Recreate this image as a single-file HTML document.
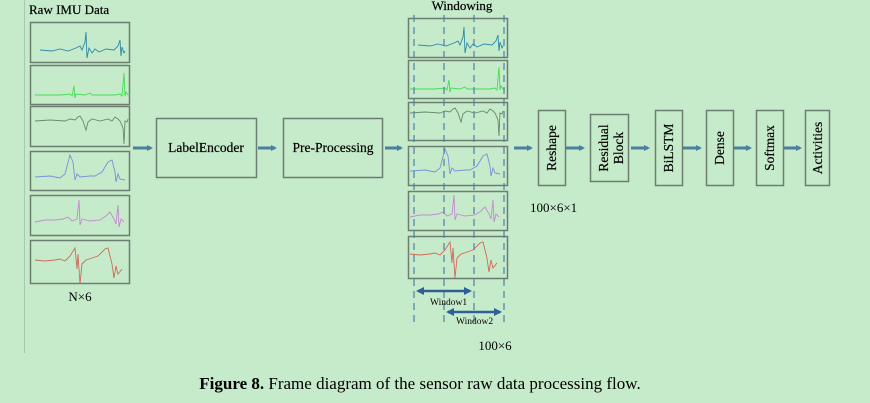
<!DOCTYPE html>
<html><head><meta charset="utf-8"><style>
html,body{margin:0;padding:0;background:#c6ebcb;}
svg{display:block;font-family:"Liberation Serif",serif;}
</style></head><body>
<svg width="870" height="403" viewBox="0 0 870 403" xmlns="http://www.w3.org/2000/svg">
<defs>
<marker id="ah" markerWidth="6" markerHeight="6" refX="4" refY="3" orient="auto" markerUnits="userSpaceOnUse"><path d="M0,0 L6,3 L0,6 z" fill="#4a7fa0"/></marker>
<marker id="bh" markerWidth="8" markerHeight="8" refX="6" refY="4" orient="auto-start-reverse" markerUnits="userSpaceOnUse"><path d="M0,0 L8,4 L0,8 z" fill="#2f5f95"/></marker>
<g id="w1"><polyline fill="none" stroke="#2e8aa8" stroke-width="0.9" points="10,20 22,21 30,19 38,21 46,18 50,16 52,20 55,12 56,2 57,28 59,18 62,23 65,19 69,22 76,19 84,20 88,16 90,10 91,26 92,17 94,23 95,21"/></g>
<g id="w2"><polyline fill="none" stroke="#44dd55" stroke-width="0.9" points="5,29 30,29 40,28 42,30 44,20 45,32 46,28 55,29 60,27 62,29 85,29 90,28 92,30 94,7 95,30 96,26 98,29 100,29"/></g>
<g id="w3"><polyline fill="none" stroke="#6a8a6a" stroke-width="0.9" points="5,13 20,12 35,13 40,11 45,12 48,9 50,8 53,13 56,22 58,14 62,11 70,13 78,11 82,13 85,9 88,11 90,13 93,20 94,36 95,13 97,14 98,11"/></g>
<g id="w4"><polyline fill="none" stroke="#7a90d8" stroke-width="0.9" points="5,25 20,24 30,26 35,22 40,3 43,10 45,28 47,22 50,25 60,24 65,24 72,20 78,10 82,8 85,20 86,30 88,22 90,27 95,28"/></g>
<g id="w5"><polyline fill="none" stroke="#c48ad0" stroke-width="0.9" points="5,25 15,23 25,23 33,22 38,20 42,24 47,22 49,3 50,28 52,22 60,24 70,23 76,19 80,15 84,22 86,27 88,8 89,30 91,22 94,25"/></g>
<g id="w6"><polyline fill="none" stroke="#d06a5a" stroke-width="0.9" points="5,16 15,17 25,16 30,15 35,17 40,12 45,4 47,25 48,10 50,40 52,20 56,16 62,14 68,12 75,5 78,4 82,20 84,34 86,22 88,30 92,25"/></g>
</defs>
<line x1="24.5" y1="0" x2="24.5" y2="353" stroke="#a8c8ad" stroke-width="1"/>
<text x="29" y="14" font-size="13" stroke="#000" stroke-width="0.2">Raw IMU Data</text>
<g fill="none" stroke="#6d7d6f" stroke-width="1.5">
<rect x="30.5" y="22.5" width="99" height="40"/>
<rect x="30.5" y="65.5" width="99" height="39"/>
<rect x="30.5" y="106.5" width="99" height="40"/>
<rect x="30.5" y="151.5" width="99" height="39"/>
<rect x="30.5" y="195.5" width="99" height="40"/>
<rect x="30.5" y="240.5" width="99" height="43"/>
</g>
<use href="#w1" x="30" y="30"/><use href="#w2" x="30" y="66"/><use href="#w3" x="30" y="108"/>
<use href="#w4" x="30" y="152"/><use href="#w5" x="30" y="197"/><use href="#w6" x="30" y="244"/>
<text x="80" y="301" font-size="13" text-anchor="middle">N×6</text>
<g stroke="#4a7fa0" stroke-width="3" marker-end="url(#ah)">
<line x1="133" y1="148" x2="151" y2="148"/>
<line x1="258" y1="148" x2="275" y2="148"/>
<line x1="385" y1="148" x2="401" y2="148"/>
<line x1="514" y1="148" x2="531" y2="148"/>
<line x1="566" y1="148" x2="583" y2="148"/>
<line x1="631" y1="148" x2="648" y2="148"/>
<line x1="683" y1="148" x2="700" y2="148"/>
<line x1="734" y1="148" x2="750" y2="148"/>
<line x1="784" y1="148" x2="800" y2="148"/>
</g>
<g fill="none" stroke="#6d7d6f" stroke-width="1.5">
<rect x="156.5" y="118.5" width="100" height="59"/>
<rect x="283.5" y="118.5" width="99" height="59"/>
</g>
<text x="206" y="152" font-size="13.5" text-anchor="middle" stroke="#000" stroke-width="0.2">LabelEncoder</text>
<text x="333" y="152" font-size="13.5" text-anchor="middle" stroke="#000" stroke-width="0.2">Pre-Processing</text>
<text x="462" y="10" font-size="13" text-anchor="middle" stroke="#000" stroke-width="0.2">Windowing</text>
<g fill="none" stroke="#6d7d6f" stroke-width="1.5">
<rect x="408.5" y="18.5" width="99" height="39"/>
<rect x="408.5" y="60.5" width="99" height="38"/>
<rect x="408.5" y="102.5" width="99" height="38"/>
<rect x="408.5" y="146.5" width="99" height="39"/>
<rect x="408.5" y="191.5" width="99" height="39"/>
<rect x="408.5" y="236.5" width="99" height="42"/>
</g>
<use href="#w1" x="408" y="25"/><use href="#w2" x="405" y="60"/><use href="#w3" x="405" y="100"/>
<use href="#w4" x="405" y="146"/><use href="#w5" x="405" y="192"/><use href="#w6" x="405" y="238"/>
<g stroke="#4a7fb0" stroke-width="1.2" stroke-dasharray="7,5">
<line x1="414" y1="15" x2="414" y2="325"/>
<line x1="444" y1="15" x2="444" y2="325"/>
<line x1="474" y1="15" x2="474" y2="325"/>
<line x1="504" y1="15" x2="504" y2="325"/>
</g>
<g stroke="#2f5f95" stroke-width="2.5" marker-start="url(#bh)" marker-end="url(#bh)">
<line x1="418" y1="291" x2="470" y2="291"/>
<line x1="448" y1="312" x2="500" y2="312"/>
</g>
<text x="430" y="305" font-size="9.5">Window1</text>
<text x="456" y="324" font-size="9.5">Window2</text>
<text x="495" y="350" font-size="13" text-anchor="middle">100×6</text>
<g fill="none" stroke="#6d7d6f" stroke-width="1.5">
<rect x="538.5" y="110.5" width="27" height="75"/>
<rect x="590.5" y="114.5" width="38" height="67"/>
<rect x="655.5" y="110.5" width="27" height="75"/>
<rect x="706.5" y="110.5" width="27" height="75"/>
<rect x="756.5" y="110.5" width="27" height="75"/>
<rect x="805.5" y="110.5" width="24" height="75"/>
</g>
<g font-size="13.5" text-anchor="middle" stroke="#000" stroke-width="0.2">
<text transform="translate(556,148) rotate(-90)">Reshape</text>
<text transform="translate(608,148) rotate(-90)">Residual</text>
<text transform="translate(623,148) rotate(-90)">Block</text>
<text transform="translate(673,148) rotate(-90)">BiLSTM</text>
<text transform="translate(724,148) rotate(-90)">Dense</text>
<text transform="translate(774,148) rotate(-90)">Softmax</text>
<text transform="translate(822,148) rotate(-90)">Activities</text>
</g>
<text x="530" y="212" font-size="13">100×6×1</text>
<text x="420" y="389" font-size="17" text-anchor="middle"><tspan font-weight="bold">Figure 8.</tspan> Frame diagram of the sensor raw data processing flow.</text>
</svg>
</body></html>
